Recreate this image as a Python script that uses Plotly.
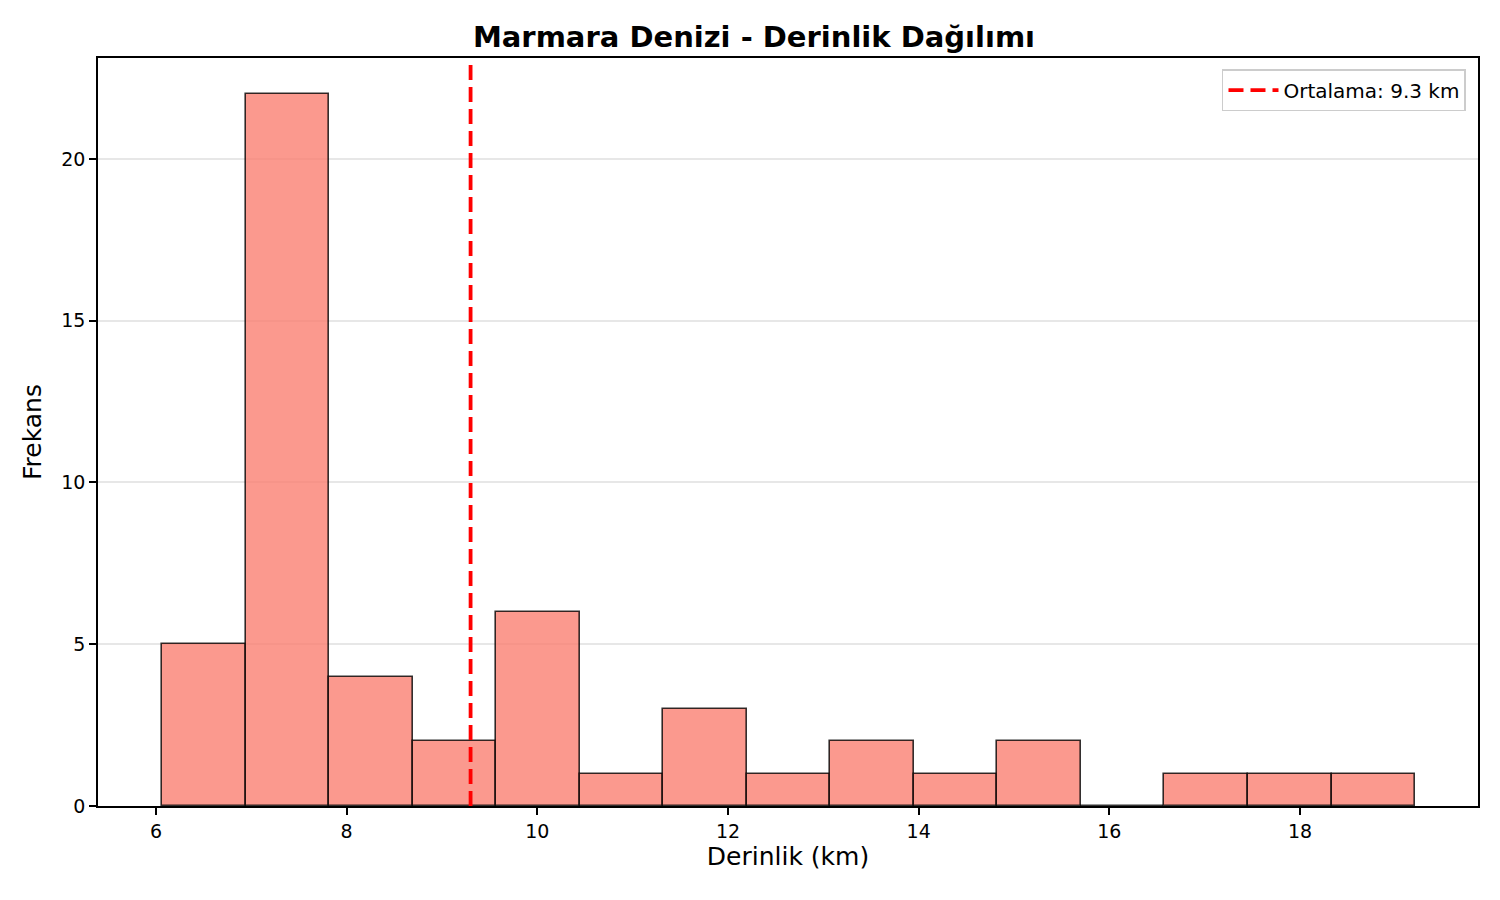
import numpy as np
import plotly.graph_objects as go

# histogram: 15 equal bins
bin_lo = 6.063
bin_hi = 19.207
counts = [5, 22, 4, 2, 6, 1, 3, 1, 2, 1, 2, 0, 1, 1, 1]
mean_depth = 9.3

edges = np.linspace(bin_lo, bin_hi, len(counts) + 1)
centers = (edges[:-1] + edges[1:]) / 2
width = edges[1] - edges[0]

fig = go.Figure()

fig.add_trace(go.Bar(
    x=centers,
    y=counts,
    width=width,
    marker=dict(color='rgba(250,128,114,0.8)',
                line=dict(color='rgba(0,0,0,0.8)', width=1.6)),
    showlegend=False,
    hoverinfo='x+y',
))

fig.add_trace(go.Scatter(
    x=[mean_depth, mean_depth],
    y=[0, 23.12],
    mode='lines',
    line=dict(color='red', width=3.8, dash='15px,7px'),
    name=f'Ortalama: {mean_depth} km',
))

axis_common = dict(
    showline=True, linecolor='black', linewidth=1.6, mirror=True,
    ticks='outside', ticklen=7, tickwidth=1.6, tickcolor='black',
    tickfont=dict(size=19, color='black'),
    zeroline=False,
)

# page body has an 8px margin, so the figure is drawn 8px smaller
fig.update_layout(
    width=1492, height=892,
    margin=dict(l=90, r=22, t=50, b=94),
    paper_bgcolor='white', plot_bgcolor='white',
    font=dict(family='DejaVu Sans', color='black'),
    title=dict(text='<b>Marmara Denizi - Derinlik Dağılımı</b>',
               x=0.5, xanchor='center', y=0.9675, yanchor='middle',
               font=dict(size=29, color='black')),
    bargap=0,
    legend=dict(x=0.9913, y=0.985, xanchor='right', yanchor='top',
                bgcolor='rgba(255,255,255,0.8)', bordercolor='#cccccc', borderwidth=1.5,
                itemwidth=50,
                font=dict(size=20, color='black')),
    xaxis=dict(range=[5.392, 19.867], tickvals=[6, 8, 10, 12, 14, 16, 18],
               showgrid=False,
               title=dict(text='Derinlik (km)', font=dict(size=25), standoff=6),
               **axis_common),
    yaxis=dict(range=[0, 23.12], tickvals=[0, 5, 10, 15, 20],
               showgrid=True, gridcolor='rgba(176,176,176,0.3)', gridwidth=1.6,
               title=dict(text='Frekans', font=dict(size=25), standoff=12),
               **axis_common),
)

fig.write_html("out.html")
